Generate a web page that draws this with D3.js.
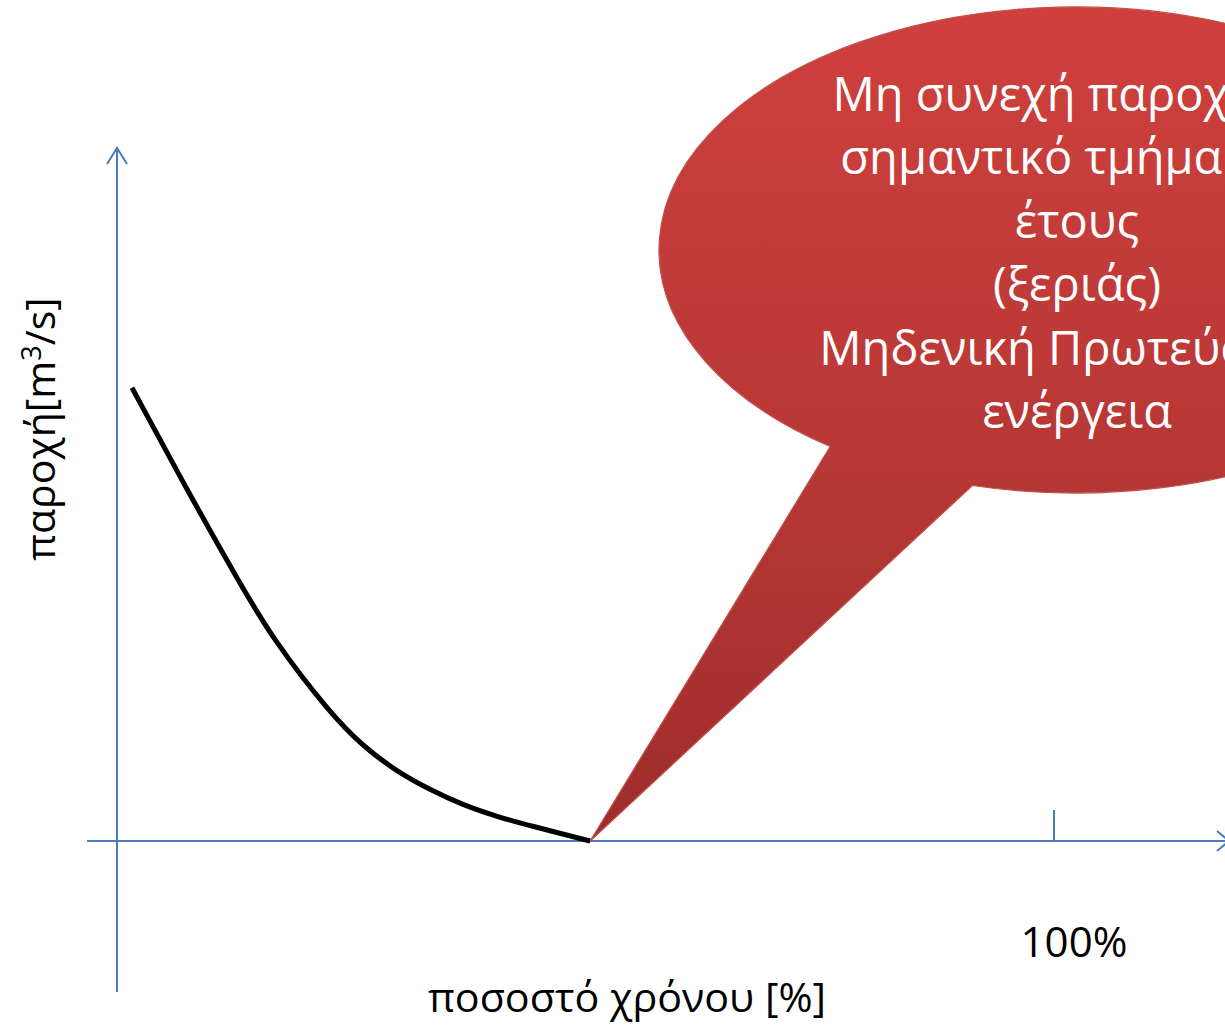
<!DOCTYPE html>
<html>
<head>
<meta charset="utf-8">
<script src="https://cdn.jsdelivr.net/npm/d3@7"></script>
<style>
  html, body { margin: 0; padding: 0; background: #fff; overflow: hidden; }
  svg { display: block; }
  text { font-family: "Open Sans", "Noto Sans", "DejaVu Sans", sans-serif; }
</style>
</head>
<body>
<svg id="chart" width="1225" height="1027"></svg>
<script>
// Flow duration curve: percent of time (x) vs discharge (y, relative units)
const timePct = [1.6, 7.5, 13.1, 16.7, 22.7, 26.3, 29.9, 33.4, 36.9, 40.6, 44.1, 50.5];
const flow    = [65.4, 50.6, 37.2, 29.0, 18.5, 13.6, 10.0, 7.4, 5.2, 3.5, 2.2, 0.0];

const xTicks = [100];
const xTickLabels = ["100%"];
const xTitle = "ποσοστό χρόνου [%]";
const yTitle = "παροχή[m";
const yTitleSup = "3";
const yTitleEnd = "/s]";
const calloutLines = [
  "Μη συνεχή παροχή σε",
  "σημαντικό τμήμα του",
  "έτους",
  "(ξεριάς)",
  "Μηδενική Πρωτεύουσα",
  "ενέργεια"
];

const svg = d3.select("#chart");
const axisColor = "#4a7ebb";

const x = d3.scaleLinear().domain([0, 100]).range([117, 1054]);
const y = d3.scaleLinear().domain([0, 100]).range([841, 148]);

// Axis lines (drawn as arrows, like a hand-drawn sketch)
const axes = svg.append("g").attr("stroke", axisColor).attr("stroke-width", 2).attr("fill", "none");
axes.append("line").attr("x1", x(0)).attr("x2", x(0)).attr("y1", 992).attr("y2", y(100));
axes.append("path").attr("d", `M${x(0) - 10},${y(100) + 16}L${x(0)},${y(100)}L${x(0) + 10},${y(100) + 16}`);
axes.append("line").attr("x1", 87).attr("x2", 1229).attr("y1", y(0)).attr("y2", y(0));
axes.append("path").attr("d", `M1217,${y(0) - 10}L1229,${y(0)}L1217,${y(0) + 10}`);

// Tick mark at 100%
axes.selectAll("line.tick").data(xTicks).join("line")
  .attr("class", "tick")
  .attr("x1", d => x(d)).attr("x2", d => x(d))
  .attr("y1", y(0) - 31).attr("y2", y(0));

svg.selectAll("text.xtick").data(xTicks).join("text")
  .attr("class", "xtick")
  .attr("x", d => x(d) + 20)
  .attr("y", 957)
  .attr("text-anchor", "middle")
  .attr("font-size", 42)
  .attr("fill", "#000")
  .text((d, i) => xTickLabels[i]);

// Axis titles
svg.append("text")
  .attr("x", 627).attr("y", 1012)
  .attr("text-anchor", "middle")
  .attr("font-size", 40)
  .attr("textLength", 398).attr("lengthAdjust", "spacingAndGlyphs")
  .attr("fill", "#000")
  .text(xTitle);

const yt = svg.append("text")
  .attr("transform", "translate(55,429) rotate(-90)")
  .attr("text-anchor", "middle")
  .attr("font-size", 41)
  .attr("fill", "#000");
yt.append("tspan").text(yTitle);
yt.append("tspan").attr("dy", -14).attr("font-size", 27).text(yTitleSup);
yt.append("tspan").attr("dy", 14).text(yTitleEnd);

// Flow duration curve (B-spline through the sampled points)
const line = d3.line()
  .x((d, i) => x(timePct[i]))
  .y((d, i) => y(flow[i]))
  .curve(d3.curveBasis);

svg.append("path")
  .datum(flow)
  .attr("d", line)
  .attr("fill", "none")
  .attr("stroke", "#000")
  .attr("stroke-width", 5);

// Speech-bubble callout pointing at the end of the curve
const defs = svg.append("defs");
const grad = defs.append("linearGradient")
  .attr("id", "bubbleFill")
  .attr("gradientUnits", "userSpaceOnUse")
  .attr("x1", 0).attr("y1", 8).attr("x2", 0).attr("y2", 841);
grad.append("stop").attr("offset", "0%").attr("stop-color", "#cf403d");
grad.append("stop").attr("offset", "58%").attr("stop-color", "#b53735");
grad.append("stop").attr("offset", "100%").attr("stop-color", "#9e2d2b");

const cx = 1075, cy = 250, rx = 416, ry = 243;
const tip = [x(timePct[timePct.length - 1]), y(flow[flow.length - 1])];
const a1 = 2.20, a2 = 1.82; // attachment angles of the tail on the ellipse
const p1 = [cx + rx * Math.cos(a1), cy + ry * Math.sin(a1)];
const p2 = [cx + rx * Math.cos(a2), cy + ry * Math.sin(a2)];
svg.append("path")
  .attr("d", `M${p1[0]},${p1[1]}A${rx},${ry} 0 1 1 ${p2[0]},${p2[1]}L${tip[0]},${tip[1]}Z`)
  .attr("fill", "url(#bubbleFill)")
  .attr("stroke", "#c0504d")
  .attr("stroke-width", 1.2);

svg.append("g")
  .selectAll("text").data(calloutLines).join("text")
  .attr("x", 1077)
  .attr("y", (d, i) => 111 + i * 63.4)
  .attr("text-anchor", "middle")
  .attr("font-size", 47)
  .attr("fill", "#fff")
  .text(d => d);
</script>
</body>
</html>
